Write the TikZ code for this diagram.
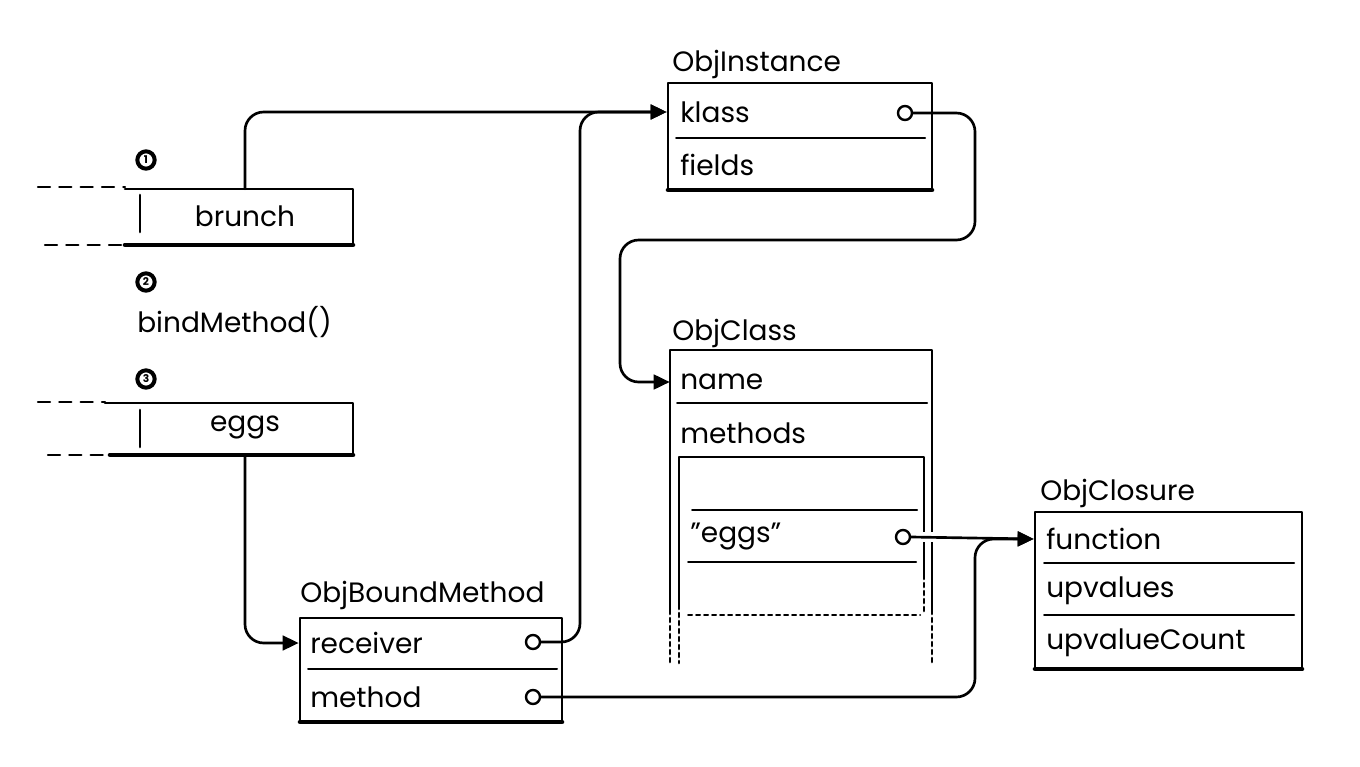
\documentclass[tikz,border=0pt]{standalone}
\usepackage{fontspec}
\setmainfont{Poppins}
\usetikzlibrary{arrows.meta,fit}
\begin{document}
\begin{tikzpicture}[x=0.75pt,y=-0.75pt,
  line cap=round, line join=round,
  edge/.style={line width=2pt},
  heavy/.style={line width=3.4pt},
  thinline/.style={line width=1.5pt},
  frame/.style={draw, line width=2pt, inner sep=0pt},
  hole/.style={inner sep=0pt},
  field/.style={anchor=west, inner sep=0pt, font=\fontsize{21}{25}\selectfont},
  slottext/.style={inner sep=0pt, font=\fontsize{21}{25}\selectfont},
  title/.style={anchor=base west, inner sep=0pt, font=\fontsize{21}{25}\selectfont},
  ptr/.style={circle, draw, fill=white, line width=1.8pt, minimum size=10.5pt, inner sep=0pt},
  conn/.style={line width=2pt, rounded corners=14pt},
  arr/.style={conn, -{Triangle[length=12pt,width=11pt]}},
  gap/.style={draw=white, line width=7pt, line cap=butt},
  num/.style={circle, draw, line width=3pt, minimum size=13pt, inner sep=0pt, font=\bfseries\fontsize{8}{8}\selectfont},
  slotdash/.style={line width=1.8pt, dash pattern=on 9pt off 7pt}
]
\useasboundingbox (0,0) rectangle (1360,767);

% ---------- stack slots ----------
\node[num] (n1) at (146,160) {1};
\node[hole, fit={(125,189) (353,245)}] (brunchslot) {};
\draw[edge] (125,189) -- (353,189) -- (353,245);
\draw[heavy] (125,245) -- (353,245);
\draw[edge] (140,195) -- (140,232);
\draw[slotdash] (38,187) -- (125,187);
\draw[slotdash] (45,245) -- (125,245);
\node[slottext] (brunch) at (245,216) {brunch};

\node[num] (n2) at (146,282) {2};
\node[field] (bind) at (137,322) {bindMethod()};

\node[num] (n3) at (146,379) {3};
\node[hole, fit={(125,403) (353,455)}] (eggsslot) {};
\draw[edge] (105,403) -- (353,403) -- (353,455);
\draw[heavy] (110,455) -- (353,455);
\draw[edge] (140,410) -- (140,447);
\draw[slotdash] (38,402) -- (105,402);
\draw[slotdash] (48,455) -- (110,455);
\node[slottext] (eggs) at (245,427) {eggs};

% ---------- ObjInstance ----------
\node[frame, fit={(668,83) (932,190)}] (instbox) {};
\draw[heavy] (668,190) -- (932,190);
\node[title] (insttitle) at (672,72) {ObjInstance};
\node[field] (klass) at (680,112) {klass};
\draw[thinline] (676,138) -- (925,138);
\node[field] (fields) at (680,165) {fields};
\node[ptr] (klassptr) at (905,113) {};

% ---------- ObjClass ----------
\node[hole, fit={(670,350) (932,663)}] (clsbox) {};
\node[title] (clstitle) at (672,340) {ObjClass};
\draw[edge] (670,610) -- (670,350) -- (932,350) -- (932,610);
\draw[edge, dashed] (670,610) -- (670,663);
\draw[edge, dashed] (932,610) -- (932,663);
\node[field] (name) at (680,382) {name};
\draw[thinline] (677,403) -- (927,403);
\node[field] (methods) at (680,433) {methods};
\draw[edge] (679,605) -- (679,457) -- (924,457) -- (924,575);
\draw[edge, dashed] (679,605) -- (679,663);
\draw[edge, dashed] (924,575) -- (924,615);
\draw[thinline] (692,510) -- (917,510);
\node[field] (eggskey) at (690,537) {\symbol{34}eggs\symbol{34}};
\draw[thinline] (688,562) -- (916,562);
\draw[thinline, dashed] (688,615) -- (920,615);
\draw[gap] (916,537) -- (940,537);
\node[ptr] (eggsptr) at (903,537) {};

% ---------- ObjClosure ----------
\node[frame, fit={(1035,512) (1302,669)}] (closbox) {};
\draw[heavy] (1035,669) -- (1302,669);
\node[title] (clostitle) at (1040,500) {ObjClosure};
\node[field] (function) at (1046,539) {function};
\draw[thinline] (1044,563) -- (1294,563);
\node[field] (upvalues) at (1046,591) {upvalues};
\draw[thinline] (1044,615) -- (1294,615);
\node[field] (upcount) at (1046,643) {upvalueCount};

% ---------- ObjBoundMethod ----------
\node[frame, fit={(300,618) (562,722)}] (bmbox) {};
\draw[heavy] (300,722) -- (562,722);
\node[title] (bmtitle) at (300,602) {ObjBoundMethod};
\node[field] (receiver) at (310,643) {receiver};
\draw[thinline] (308,669) -- (557,669);
\node[field] (method) at (310,697) {method};
\node[ptr] (recvptr) at (533,642) {};
\node[ptr] (methptr) at (533,697) {};

% ---------- connectors ----------
\coordinate (rcv) at (580,0);
\coordinate (kr) at (975,240);
\coordinate (kl) at (620,240);
\coordinate (mr) at (975,0);

\draw[arr] (brunch |- brunchslot.north) |- (instbox.west |- klass);
\draw[arr] (recvptr.east) -| (rcv |- klass) -- (instbox.west |- klass);
\draw[arr] (klassptr.east) -| (kr) -- (kl) |- (clsbox.west |- name);
\draw[arr] (eggs |- eggsslot.south) |- (bmbox.west |- receiver);
\draw[arr] (eggsptr.east) -- (closbox.west |- function);
\draw[arr] (methptr.east) -| (mr |- function) -- (closbox.west |- function);
\end{tikzpicture}
\end{document}
